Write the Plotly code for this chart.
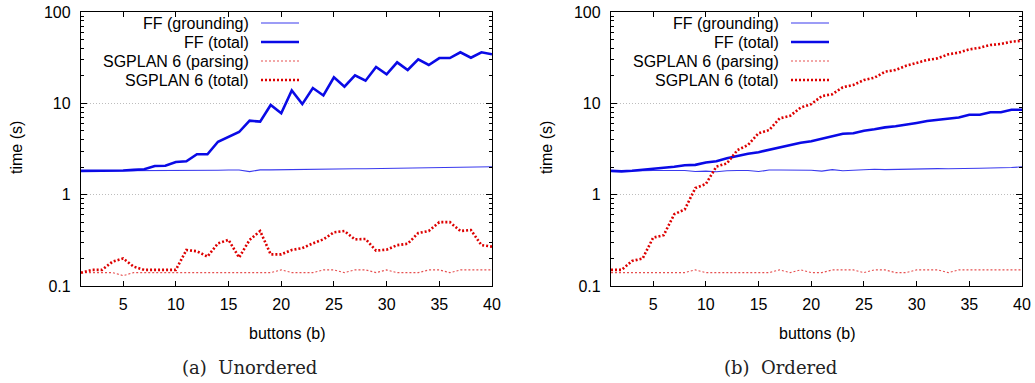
import plotly.graph_objects as go

buttons = list(range(1, 41))

# (a) Unordered
ff_ground_unord = [1.82,1.82,1.82,1.82,1.82,1.83,1.83,1.83,1.83,1.84,
                   1.84,1.84,1.85,1.85,1.86,1.86,1.79,1.87,1.87,1.88,
                   1.86,1.88,1.89,1.90,1.90,1.91,1.92,1.92,1.93,1.93,
                   1.94,1.95,1.96,1.96,1.97,1.98,1.99,1.99,2.00,2.02]
ff_total_unord = [1.82,1.82,1.83,1.83,1.84,1.87,1.90,2.06,2.07,2.28,
                  2.32,2.77,2.77,3.80,4.31,4.85,6.46,6.30,9.60,7.80,
                  13.8,9.8,14.7,12.2,19.3,15.2,20.3,17.7,25.0,20.8,
                  28.1,23.2,30.3,26.3,31.3,31.3,36.2,31.6,36.2,34.4]
sg_parse_unord = [0.14,0.14,0.14,0.14,0.13,0.14,0.14,0.14,0.14,0.14,
                  0.14,0.14,0.14,0.14,0.14,0.14,0.14,0.14,0.14,0.15,
                  0.14,0.14,0.14,0.15,0.15,0.14,0.15,0.15,0.14,0.15,
                  0.14,0.14,0.14,0.15,0.15,0.14,0.15,0.15,0.15,0.15]
sg_total_unord = [0.14,0.15,0.15,0.185,0.20,0.163,0.15,0.15,0.15,0.15,
                  0.248,0.24,0.21,0.293,0.32,0.205,0.32,0.40,0.222,0.222,
                  0.248,0.26,0.293,0.324,0.387,0.40,0.324,0.327,0.244,0.25,
                  0.28,0.29,0.38,0.40,0.50,0.50,0.40,0.41,0.28,0.27]

# (b) Ordered
ff_ground_ord = [1.82,1.80,1.82,1.84,1.84,1.84,1.84,1.84,1.79,1.81,
                 1.78,1.83,1.84,1.84,1.79,1.86,1.86,1.86,1.87,1.85,
                 1.81,1.88,1.83,1.85,1.88,1.90,1.88,1.89,1.91,1.93,
                 1.93,1.93,1.92,1.94,1.95,1.95,1.96,1.96,1.98,2.02]
ff_total_ord = [1.82,1.80,1.83,1.88,1.92,1.95,2.02,2.10,2.12,2.25,
                2.32,2.50,2.65,2.80,2.92,3.10,3.30,3.45,3.70,3.85,
                4.10,4.30,4.65,4.70,5.00,5.20,5.45,5.60,5.90,6.10,
                6.40,6.60,6.90,7.00,7.50,7.50,8.00,8.00,8.50,8.50]
sg_parse_ord = [0.14,0.14,0.14,0.14,0.14,0.14,0.14,0.14,0.15,0.14,
                0.14,0.14,0.14,0.14,0.14,0.14,0.15,0.14,0.15,0.14,
                0.14,0.15,0.15,0.15,0.14,0.15,0.15,0.14,0.14,0.15,
                0.15,0.15,0.14,0.15,0.15,0.15,0.15,0.15,0.15,0.15]
sg_total_ord = [0.15,0.15,0.188,0.20,0.338,0.36,0.61,0.69,1.18,1.31,
                2.03,2.2,3.08,3.5,4.7,5.1,6.85,7.3,9.0,9.8,
                12.0,12.6,15.0,15.9,18.0,19.1,22.2,23.2,25.8,27.7,
                29.8,31.1,34.4,35.9,39.0,40.6,43.5,44.7,47.3,48.5]

series_names = ["FF (grounding)", "FF (total)", "SGPLAN 6 (parsing)", "SGPLAN 6 (total)"]
y_tick_vals = [0.1, 1, 10, 100]
y_tick_text = ["0.1", "1", "10", "100"]
y_minor_vals = [m * d for d in (0.1, 1, 10) for m in range(2, 10)]
x_tick_vals = [5, 10, 15, 20, 25, 30, 35, 40]
captions = ["(a)  Unordered", "(b)  Ordered"]

BLUE = "#0a0ae6"
BLUE_THIN = "#3a3aee"
RED = "#dd0000"
RED_THIN = "#e65050"
styles = [
    dict(color=BLUE_THIN, width=1.1, dash="solid"),
    dict(color=BLUE, width=2.6, dash="solid"),
    dict(color=RED_THIN, width=1.1, dash="2px,2px"),
    dict(color=RED, width=2.6, dash="2px,2px"),
]

SANS = "Liberation Sans, Arial, sans-serif"
FS = 16
fig = go.Figure()

panels = [
    ("x", "y", [ff_ground_unord, ff_total_unord, sg_parse_unord, sg_total_unord]),
    ("x2", "y2", [ff_ground_ord, ff_total_ord, sg_parse_ord, sg_total_ord]),
]
for xa, ya, data in panels:
    for name, vals, st in zip(series_names, data, styles):
        fig.add_trace(go.Scatter(x=buttons, y=vals, mode="lines", name=name,
                                 line=st, xaxis=xa, yaxis=ya, showlegend=False))

W, H = 1035, 383
left_px = [81, 611]
plot_w = 411
top_px, bot_px = 12, 286
ydom = [1 - bot_px / H, 1 - top_px / H]

axis_common = dict(showline=True, linecolor="black", linewidth=1.3, mirror="ticks",
                   ticks="inside", tickcolor="black", zeroline=False, automargin=False,
                   tickfont=dict(family=SANS, size=FS, color="black"))

layout = dict(template="none", width=W, height=H, margin=dict(l=0, r=0, t=0, b=0, autoexpand=False),
              paper_bgcolor="white", plot_bgcolor="white", showlegend=False,
              font=dict(family=SANS, size=FS, color="black"))

for i, lp in enumerate(left_px):
    sx = "" if i == 0 else "2"
    layout["xaxis" + sx] = dict(axis_common, domain=[lp / W, (lp + plot_w) / W],
                                range=[1, 40], tickmode="array", tickvals=x_tick_vals,
                                ticklen=5, showgrid=False, ticklabelstandoff=4,
                                anchor="y" + sx)
    layout["yaxis" + sx] = dict(axis_common, domain=ydom, type="log", range=[-1, 2],
                                tickmode="array", tickvals=y_tick_vals, ticktext=y_tick_text,
                                ticklen=6, showgrid=True, gridcolor="#bdbdbd",
                                griddash="1px,2px", gridwidth=1, ticklabelstandoff=6,
                                minor=dict(ticks="inside", ticklen=3, tickcolor="black",
                                           tickmode="array", tickvals=y_minor_vals,
                                           showgrid=False),
                                anchor="x" + sx)

fig.update_layout(**layout)

annotations = []
shapes = []
legend_rows_px = [23, 42, 61, 80]
for i, lp in enumerate(left_px):
    sx = "" if i == 0 else "2"
    cx = (lp + plot_w / 2) / W
    annotations.append(dict(text="buttons (b)", x=cx, y=1 - 333 / H, xref="paper", yref="paper",
                            showarrow=False, font=dict(family=SANS, size=FS), xanchor="center",
                            yanchor="middle"))
    annotations.append(dict(text="time (s)", x=(lp - 64) / W, y=1 - 148 / H, xref="paper",
                            yref="paper", showarrow=False, textangle=-90,
                            font=dict(family=SANS, size=FS), xanchor="center", yanchor="middle"))
    annotations.append(dict(text=captions[i], x=cx - 36.5 / W, y=1 - 367 / H, xref="paper",
                            yref="paper", showarrow=False,
                            font=dict(family="DejaVu Serif, serif", size=18, color="#222"),
                            xanchor="center", yanchor="middle"))
    for name, st, ry in zip(series_names, styles, legend_rows_px):
        yd = (bot_px - ry) / (bot_px - top_px)
        annotations.append(dict(text=name, x=170 / plot_w, y=yd, xref="x%s domain" % sx,
                                yref="y%s domain" % sx, showarrow=False, xanchor="right",
                                yanchor="middle", font=dict(family=SANS, size=FS)))
        shapes.append(dict(type="line", xref="x%s domain" % sx, yref="y%s domain" % sx,
                           x0=180 / plot_w, x1=218 / plot_w, y0=yd, y1=yd,
                           line=dict(color=st["color"], width=st["width"], dash=st["dash"])))

fig.update_layout(annotations=annotations, shapes=shapes)
fig.write_html("out.html")
